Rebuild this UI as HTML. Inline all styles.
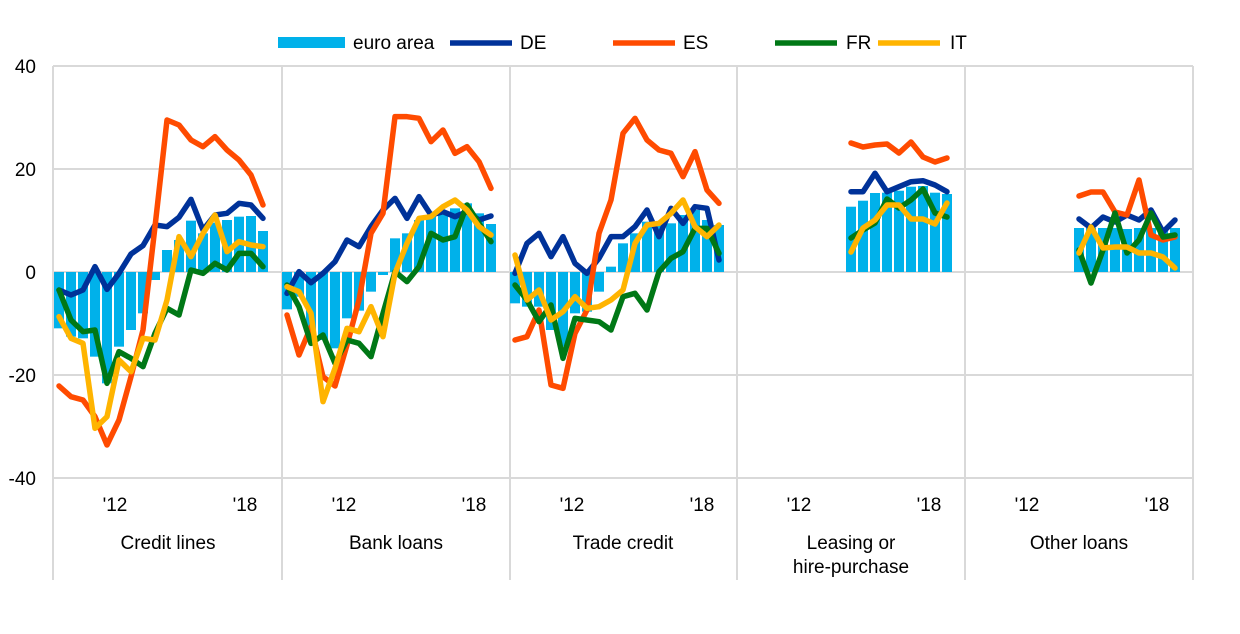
<!DOCTYPE html><html><head><meta charset="utf-8"><style>body{margin:0;background:#fff}svg{display:block;font-family:"Liberation Sans",sans-serif}</style></head><body>
<svg id="s" width="1240" height="634" xmlns="http://www.w3.org/2000/svg">
<g stroke="#d9d9d9" stroke-width="2">
<line x1="53" x2="1193" y1="66" y2="66"/><line x1="53" x2="1193" y1="169" y2="169"/><line x1="53" x2="1193" y1="272" y2="272"/><line x1="53" x2="1193" y1="375" y2="375"/><line x1="53" x2="1193" y1="478" y2="478"/>
<line x1="53" x2="53" y1="66" y2="580"/><line x1="282" x2="282" y1="66" y2="580"/><line x1="510" x2="510" y1="66" y2="580"/><line x1="737" x2="737" y1="66" y2="580"/><line x1="965" x2="965" y1="66" y2="580"/><line x1="1193" x2="1193" y1="66" y2="580"/>
</g>
<g font-size="19" fill="#000" text-anchor="end"><text x="36" y="73">40</text><text x="36" y="176">20</text><text x="36" y="279">0</text><text x="36" y="382">-20</text><text x="36" y="485">-40</text></g>
<g id="bars" fill="#00b1ea"></g><g id="lines" fill="none" stroke-width="5.5" stroke-linejoin="round" stroke-linecap="round"></g>
<g font-size="19" text-anchor="middle">
<text x="115" y="511">'12</text><text x="245" y="511">'18</text>
<text x="344" y="511">'12</text><text x="474" y="511">'18</text>
<text x="572" y="511">'12</text><text x="702" y="511">'18</text>
<text x="799" y="511">'12</text><text x="929" y="511">'18</text>
<text x="1027" y="511">'12</text><text x="1157" y="511">'18</text>
<text x="168" y="549">Credit lines</text><text x="396" y="549">Bank loans</text><text x="623" y="549">Trade credit</text>
<text x="851" y="549">Leasing or</text><text x="851" y="573">hire-purchase</text><text x="1079" y="549">Other loans</text>
</g>
<g font-size="19">
<rect x="278" y="37" width="67" height="11" fill="#00b1ea"/><text x="353" y="49">euro area</text>
<line x1="450" x2="512" y1="43" y2="43" stroke="#003299" stroke-width="5.5"/><text x="520" y="49">DE</text>
<line x1="613" x2="675" y1="43" y2="43" stroke="#ff4b00" stroke-width="5.5"/><text x="683" y="49">ES</text>
<line x1="775" x2="837" y1="43" y2="43" stroke="#007816" stroke-width="5.5"/><text x="846" y="49">FR</text>
<line x1="878" x2="940" y1="43" y2="43" stroke="#ffb400" stroke-width="5.5"/><text x="950" y="49">IT</text>
</g>
</svg>
<script>
var C={DE:"#003299",ES:"#ff4b00",FR:"#007816",IT:"#ffb400"};
var ns="http://www.w3.org/2000/svg";
function z(a){return a.map(function(v){return 100+v/3});}
var P=[
{x0:59,bars:z([685,710,715,770,850,740,690,640,540,450,420,362,400,368,360,350,348,393]),
DE:z([570,585,570,500,568,520,462,437,375,380,352,298,390,345,340,310,315,355]),
ES:z([858,890,900,950,1035,960,830,690,380,60,75,120,140,110,150,180,225,315]),
FR:z([570,660,695,690,850,755,775,800,700,625,645,510,520,490,510,460,460,500]),
IT:z([650,715,730,985,950,780,815,715,720,600,410,470,400,345,455,425,435,440])},
{x0:287,bars:z([628,590,690,720,745,655,632,575,525,415,400,360,345,335,325,310,340,372]),
DE:z([580,515,548,520,485,420,440,380,330,295,355,290,345,335,350,335,360,348]),
ES:z([645,765,680,830,858,735,600,400,340,50,50,55,125,90,160,140,185,265]),
FR:z([555,620,730,705,790,720,730,770,640,515,545,500,400,420,410,315,370,425]),
IT:z([560,575,640,905,805,685,695,620,710,520,430,355,350,320,300,330,380,405])},
{x0:515,bars:z([610,620,620,690,740,640,635,575,500,430,400,365,370,370,345,330,360,375]),
DE:z([520,430,400,470,410,490,520,475,410,410,380,330,410,325,370,320,325,480]),
ES:z([720,710,630,855,865,700,630,400,300,100,55,120,150,160,230,155,270,310]),
FR:z([555,600,665,615,775,655,660,665,690,590,580,630,515,475,455,385,385,460]),
IT:z([465,600,570,660,635,590,625,620,600,570,430,375,370,340,300,380,410,375])},
{x0:743,s:9,bars:[206.7,200.7,193,192.7,190.7,186.7,186,192.7,194],
DE:[191.7,191.7,173.3,191.7,186.7,181.7,180.7,185,191.7],
ES:[143,147,145,144,153,142,157,162,158],
FR:[238,230,223,199,208,200,189,213,217],
IT:[252,228,220,205,205,219,219,224,203]},
{x0:971,s:9,bars:[228,228,228,228,229,228,228,228,228],
DE:[219,228,217,222,215,220,210,232,220],
ES:[196,192,192,212,215,180,235,240,237],
FR:[250,283,250,213,253,240,213,237,235],
IT:[253,227,248,247,247,253,253,257,268]}];
var B=document.getElementById("bars"),L=document.getElementById("lines");
P.forEach(function(p){var s=p.s||0;
p.bars.forEach(function(y,i){var x=p.x0+(s+i)*12;var r=document.createElementNS(ns,"rect");
r.setAttribute("x",x-5);r.setAttribute("width",10);r.setAttribute("y",Math.min(y,272));r.setAttribute("height",Math.abs(y-272));B.appendChild(r);});
["DE","ES","FR","IT"].forEach(function(k){var pts=p[k].map(function(y,i){return (p.x0+(s+i)*12)+","+y}).join(" ");
var pl=document.createElementNS(ns,"polyline");pl.setAttribute("points",pts);pl.setAttribute("stroke",C[k]);L.appendChild(pl);});
});
</script>
</body></html>
